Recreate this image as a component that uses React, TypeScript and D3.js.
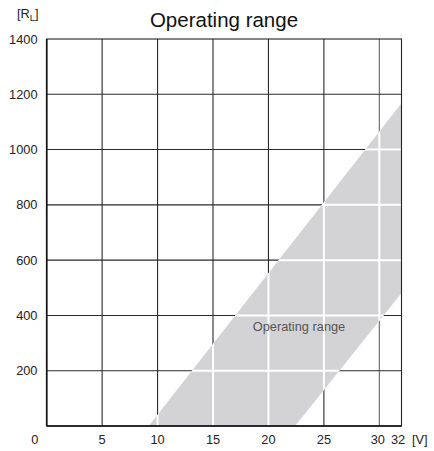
import React from "react";
import * as d3 from "d3";

const xTicks = [0, 5, 10, 15, 20, 25, 30, 32];
const yTicks = [0, 200, 400, 600, 800, 1000, 1200, 1400];
const xGrid = [5, 10, 15, 20, 25, 30];
const yGrid = [200, 400, 600, 800, 1000, 1200];
// operating band boundary: [V, R]
const bandUpper = [[9.2, 0], [32, 1168]];
const bandLower = [[32, 481], [22.4, 0]];

const W = 434, H = 451;
const x = d3.scaleLinear().domain([0, 32]).range([46.7, 401.5]);
const y = d3.scaleLinear().domain([0, 1400]).range([426, 39]);
const font = "'Liberation Sans', Arial, sans-serif";
const fs = 12.8;

export default function App() {
  const band = [...bandUpper, ...bandLower];
  const bandPath = d3.line<number[]>().x((d) => x(d[0])).y((d) => y(d[1]))(band) + "Z";
  const xLabelPos = (v: number) =>
    v === 0 ? x(v) - 12 : v === 32 ? x(v) - 3.5 : v === 30 ? x(v) - 1.5 : x(v);
  return (
    <svg width={W} height={H} style={{ position: "absolute", left: 0, top: 0 }}>
      <defs>
        <clipPath id="bandClip">
          <path d={bandPath} />
        </clipPath>
      </defs>
      <rect width={W} height={H} fill="#fff" />
      {xGrid.map((v) => (
        <line key={"vx" + v} x1={x(v)} x2={x(v)} y1={y(0)} y2={y(1400)} stroke={v === 30 ? "#666" : "#2a2a2a"} strokeWidth={1.1} />
      ))}
      {yGrid.map((v) => (
        <line key={"hy" + v} x1={x(0)} x2={x(32)} y1={y(v)} y2={y(v)} stroke="#2a2a2a" strokeWidth={1.1} />
      ))}
      <path d={bandPath} fill="#d3d3d5" />
      <g clipPath="url(#bandClip)">
        {xGrid.map((v) => (
          <line key={"wx" + v} x1={x(v)} x2={x(v)} y1={y(0)} y2={y(1400)} stroke="#fff" strokeWidth={2} />
        ))}
        {yGrid.map((v) => (
          <line key={"wy" + v} x1={x(0)} x2={x(32)} y1={y(v)} y2={y(v)} stroke="#fff" strokeWidth={2} />
        ))}
      </g>
      <rect x={x(0)} y={y(1400)} width={x(32) - x(0)} height={y(0) - y(1400)} fill="none" stroke="#222" strokeWidth={1.1} />
      <line x1={x(0)} x2={x(0)} y1={y(0)} y2={y(1400)} stroke="#111" strokeWidth={1.6} />
      <line x1={x(0)} x2={x(32)} y1={y(0)} y2={y(0)} stroke="#111" strokeWidth={1.6} />
      <text x={224} y={27} textAnchor="middle" fontFamily={font} fontSize={20.5} fill="#111">Operating range</text>
      <text x={17} y={18} fontFamily={font} fontSize={fs} fill="#222">
        [R<tspan fontSize={9.5} dy={3}>L</tspan><tspan dy={-3}>]</tspan>
      </text>
      {yTicks.filter((v) => v > 0).map((v) => (
        <text key={"yl" + v} x={37.5} y={y(v) + 4.5} textAnchor="end" fontFamily={font} fontSize={fs} fill="#222">{v}</text>
      ))}
      {xTicks.map((v) => (
        <text key={"xl" + v} x={xLabelPos(v)} y={443.5} textAnchor="middle" fontFamily={font} fontSize={fs} fill="#222">{v}</text>
      ))}
      <text x={412} y={443.5} fontFamily={font} fontSize={fs} fill="#222">[V]</text>
      <text x={299} y={330.5} textAnchor="middle" fontFamily={font} fontSize={fs} fill="#555">Operating range</text>
    </svg>
  );
}
